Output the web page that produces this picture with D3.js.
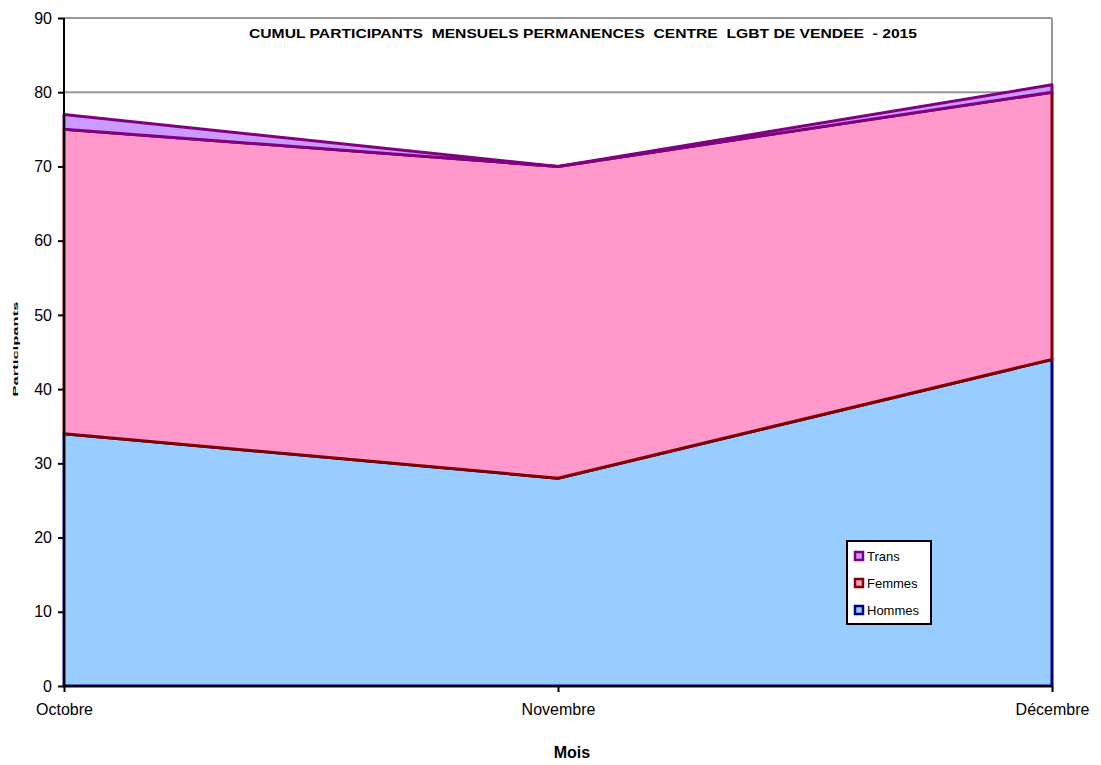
<!DOCTYPE html>
<html>
<head>
<meta charset="utf-8">
<script src="https://cdn.jsdelivr.net/npm/d3@7"></script>
<style>
body { margin: 0; background: #fff; }
text { font-family: Arial, "Liberation Sans", sans-serif; }
</style>
</head>
<body>
<svg width="1101" height="765"></svg>
<script>
var months = ["Octobre", "Novembre", "Décembre"];
var hommes = [34, 28, 44];
var femmes = [41, 42, 36];
var trans = [2, 0, 1];
var yTicks = [0, 10, 20, 30, 40, 50, 60, 70, 80, 90];

var series = [
	{ name: "Hommes", values: hommes, fill: "#99CCFF", stroke: "#000080" },
	{ name: "Femmes", values: femmes, fill: "#FF99CC", stroke: "#800000" },
	{ name: "Trans", values: trans, fill: "#CC99FF", stroke: "#800080" }
];

var svg = d3.select("svg"),
	plotL = 64, plotR = 1052, plotT = 18, plotB = 686;

var x = d3.scalePoint().domain(months).range([plotL, plotR]);
var y = d3.scaleLinear().domain([0, 90]).range([plotB, plotT]);

// gridlines + frame
svg.append("g").selectAll("line")
	.data(yTicks.filter(function (d) { return d > 0; }))
	.enter().append("line")
	.attr("x1", plotL).attr("x2", plotR)
	.attr("y1", function (d) { return y(d); })
	.attr("y2", function (d) { return y(d); })
	.attr("stroke", "#999").attr("stroke-width", 2);
svg.append("line").attr("x1", plotR).attr("x2", plotR).attr("y1", plotT).attr("y2", plotB)
	.attr("stroke", "#999").attr("stroke-width", 2);

// stack
var rows = months.map(function (m, i) {
	var r = { month: m };
	series.forEach(function (s) { r[s.name] = s.values[i]; });
	return r;
});
var stacked = d3.stack().keys(series.map(function (s) { return s.name; }))(rows);

var area = d3.area()
	.x(function (d) { return x(d.data.month); })
	.y0(function (d) { return y(d[0]); })
	.y1(function (d) { return y(d[1]); });

svg.append("g").selectAll("path")
	.data(stacked)
	.enter().append("path")
	.attr("d", area)
	.attr("fill", function (d, i) { return series[i].fill; })
	.attr("stroke", function (d, i) { return series[i].stroke; })
	.attr("stroke-width", 3)
	.attr("stroke-linejoin", "round");

// axes
var yAxis = svg.append("g")
	.attr("transform", "translate(" + plotL + ",0)")
	.call(d3.axisLeft(y).tickValues(yTicks).tickSize(6).tickPadding(6).tickSizeOuter(0));
var xAxis = svg.append("g")
	.attr("transform", "translate(0," + plotB + ")")
	.call(d3.axisBottom(x).tickSize(6).tickPadding(12).tickSizeOuter(0));
[yAxis, xAxis].forEach(function (a) {
	a.select(".domain").attr("stroke", "#000").attr("stroke-width", 2);
	a.selectAll(".tick line").attr("stroke", "#000").attr("stroke-width", 2);
	a.selectAll("text").attr("font-size", 16).attr("fill", "#000")
		.style("font-family", "Arial, 'Liberation Sans', sans-serif");
});
yAxis.select(".domain").attr("d", "M0," + (plotB + 1) + "V" + plotT);
xAxis.select(".domain").attr("d", "M" + (plotL - 1) + ",0H" + plotR);

// title
svg.append("text")
	.attr("x", 583).attr("y", 38)
	.attr("text-anchor", "middle")
	.style("white-space", "pre")
	.attr("font-size", 13).attr("font-weight", "bold")
	.attr("textLength", 668).attr("lengthAdjust", "spacingAndGlyphs")
	.text("CUMUL PARTICIPANTS  MENSUELS PERMANENCES  CENTRE  LGBT DE VENDEE  - 2015");

svg.append("text")
	.attr("x", 572).attr("y", 758)
	.attr("text-anchor", "middle")
	.attr("font-size", 16).attr("font-weight", "bold")
	.text("Mois");

svg.append("text")
	.attr("transform", "translate(18,349) rotate(-90)")
	.attr("text-anchor", "middle")
	.attr("font-size", 7).attr("font-weight", "bold")
	.attr("textLength", 95).attr("lengthAdjust", "spacingAndGlyphs")
	.text("Participants");

// legend
var legend = svg.append("g").attr("transform", "translate(847,541)");
legend.append("rect").attr("width", 84).attr("height", 83)
	.attr("fill", "#fff").attr("stroke", "#000").attr("stroke-width", 2);
var items = legend.selectAll("g.item")
	.data(series.slice().reverse())
	.enter().append("g")
	.attr("transform", function (d, i) { return "translate(0," + (15 + i * 27) + ")"; });
items.append("rect")
	.attr("x", 8).attr("y", -4).attr("width", 8).attr("height", 8)
	.attr("fill", function (d) { return d.fill; })
	.attr("stroke", function (d) { return d.stroke; })
	.attr("stroke-width", 2.5);
items.append("text")
	.attr("x", 20).attr("y", 5)
	.attr("font-size", 13)
	.text(function (d) { return d.name; });
</script>
</body>
</html>
